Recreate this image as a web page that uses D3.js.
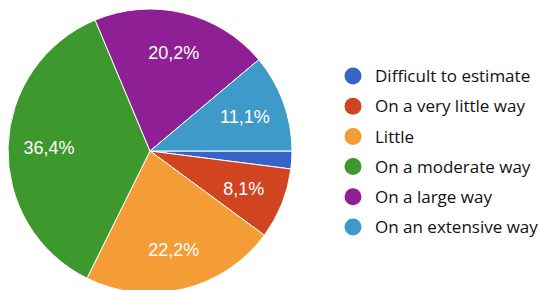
<!DOCTYPE html>
<html>
<head>
<meta charset="utf-8">
<script src="https://cdn.jsdelivr.net/npm/d3@7"></script>
<style>
  body { margin: 0; background: #fff; }
</style>
</head>
<body>
<div id="chart"></div>
<script>
const categories = ["Difficult to estimate", "On a very little way", "Little",
    "On a moderate way", "On a large way", "On an extensive way"];
const counts = [2, 8, 22, 36, 20, 11];
const labels = ["", "8,1%", "22,2%", "36,4%", "20,2%", "11,1%"];
const colors = ["#3764c8", "#d0451f", "#f49c36", "#3d982d", "#8e1f95", "#3e9bc9"];

const width = 540;
const height = 290;
const radius = 142;

const svg = d3.select("#chart").append("svg")
    .attr("width", width)
    .attr("height", height);

const pie = d3.pie()
    .sort(null)
    .startAngle(Math.PI / 2)
    .endAngle(Math.PI / 2 + 2 * Math.PI);

const arcs = pie(counts);

const arc = d3.arc().innerRadius(0).outerRadius(radius);
const labelArc = d3.arc().innerRadius(101).outerRadius(101);

const g = svg.append("g")
    .attr("transform", `translate(150,151)`);

g.selectAll("path")
    .data(arcs)
    .enter().append("path")
    .attr("d", arc)
    .attr("fill", (d, i) => colors[i])
    .attr("stroke", "#fff")
    .attr("stroke-width", 1);

g.selectAll("text")
    .data(arcs)
    .enter().append("text")
    .attr("transform", d => `translate(${labelArc.centroid(d)})`)
    .attr("text-anchor", "middle")
    .attr("dy", "0.36em")
    .style("font", "18px 'Liberation Sans', Arial, sans-serif")
    .attr("fill", "#fff")
    .text((d, i) => labels[i]);

// legend
const y = d3.scalePoint()
    .domain(categories)
    .range([76, 227]);

const legend = svg.append("g")
    .selectAll("g")
    .data(categories)
    .enter().append("g")
    .attr("transform", d => `translate(353,${y(d)})`);

legend.append("circle")
    .attr("r", 8.5)
    .attr("fill", (d, i) => colors[i]);

legend.append("text")
    .attr("x", 22)
    .attr("dy", "0.36em")
    .style("font", "17px 'Open Sans', sans-serif")
    .attr("fill", "#111")
    .text(d => d);
</script>
</body>
</html>
